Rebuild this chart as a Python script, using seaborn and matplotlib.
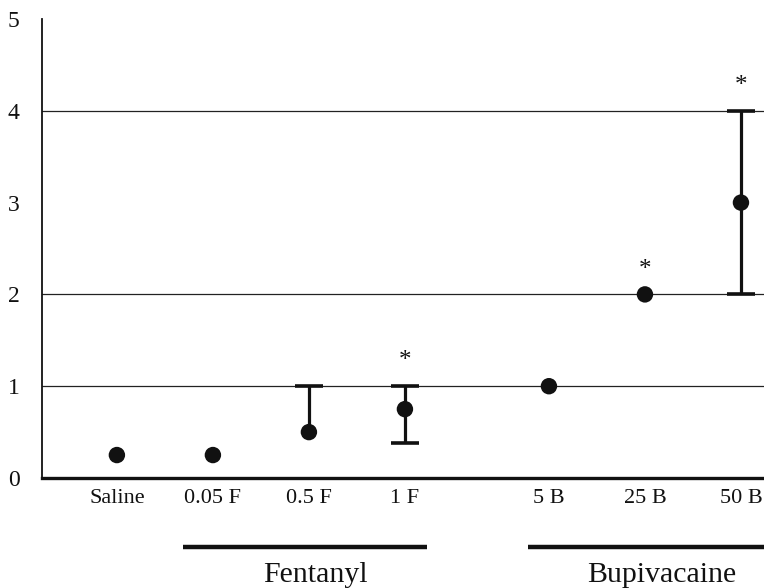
import matplotlib
matplotlib.use("Agg")
import matplotlib.pyplot as plt
import seaborn as sns
import pandas as pd
import numpy as np

# ---- data ----
labels = ["Saline", "0.05 F", "0.5 F", "1 F", "5 B", "25 B", "50 B"]
xpos = [0, 1, 2, 3, 4.5, 5.5, 6.5]
median = [0.25, 0.25, 0.5, 0.75, 1.0, 2.0, 3.0]
lower = [0.25, 0.25, 0.5, 0.38, 1.0, 2.0, 2.0]
upper = [0.25, 0.25, 1.0, 1.0, 1.0, 2.0, 4.0]
signif = [False, False, False, True, False, True, True]
grid_levels = [1, 2, 4]
groups = ["Fentanyl", "Bupivacaine"]
group_spans = [(0.69, 3.23), (4.28, 6.9)]
group_label_x = [2.07, 5.67]

sns.set_style("white")
plt.rcParams["font.family"] = ["Liberation Serif", "DejaVu Serif"]

df = pd.DataFrame({"x": xpos, "y": median, "lo": lower, "hi": upper, "label": labels})

fig = plt.figure(figsize=(7.64, 5.88), dpi=100)
ax = fig.add_axes([42 / 764, 110 / 588, 1 - 42 / 764, 459 / 588])

for g in grid_levels:
    ax.axhline(g, color="#222222", lw=0.9, zorder=1)

# error stems and caps (one-sided where only one side exists)
e = df[(df["hi"] > df["y"]) | (df["lo"] < df["y"])]
ax.vlines(e["x"], e["lo"], e["hi"], color="#111111", lw=2.3, zorder=2)
up = df[df["hi"] > df["y"]]
dn = df[df["lo"] < df["y"]]
ax.plot(up["x"], up["hi"], ls="none", marker="_", ms=20, mew=2.6,
        color="#111111", zorder=2)
ax.plot(dn["x"], dn["lo"], ls="none", marker="_", ms=20, mew=2.6,
        color="#111111", zorder=2)

sns.scatterplot(data=df, x="x", y="y", ax=ax, s=140, color="#111111",
                edgecolor="none", zorder=3, legend=False)

for xi, hi, sg in zip(xpos, upper, signif):
    if sg:
        ax.text(xi, hi + 0.27, "*", ha="center", va="center", fontsize=18,
                color="#111111")

ax.set_xlim(-0.78, 6.74)
ax.set_ylim(0, 5)
ax.set_xticks(xpos)
ax.set_xticklabels(labels, fontsize=16)
ax.set_yticks([0, 1, 2, 3, 4, 5])
ax.set_yticklabels(["0", "1", "2", "3", "4", "5"], fontsize=17)
ax.set_xlabel("")
ax.set_ylabel("")
ax.tick_params(axis="x", length=0, pad=8, colors="#111111")
ax.tick_params(axis="y", direction="out", length=6, width=1.0, pad=10,
               colors="#111111")

for s in ["top", "right"]:
    ax.spines[s].set_visible(False)
ax.spines["left"].set_linewidth(1.3)
ax.spines["left"].set_color("#111111")
ax.spines["bottom"].set_linewidth(2.4)
ax.spines["bottom"].set_color("#111111")

trans = matplotlib.transforms.blended_transform_factory(ax.transData, ax.transAxes)
for name, (x0, x1), lx in zip(groups, group_spans, group_label_x):
    ax.plot([x0, x1], [-0.150, -0.150], transform=trans, color="#111111",
            lw=3.2, clip_on=False, solid_capstyle="butt")
    ax.text(lx, -0.212, name, transform=trans, ha="center", va="center",
            fontsize=21.5, color="#111111")

fig.savefig("out.png", dpi=100)
